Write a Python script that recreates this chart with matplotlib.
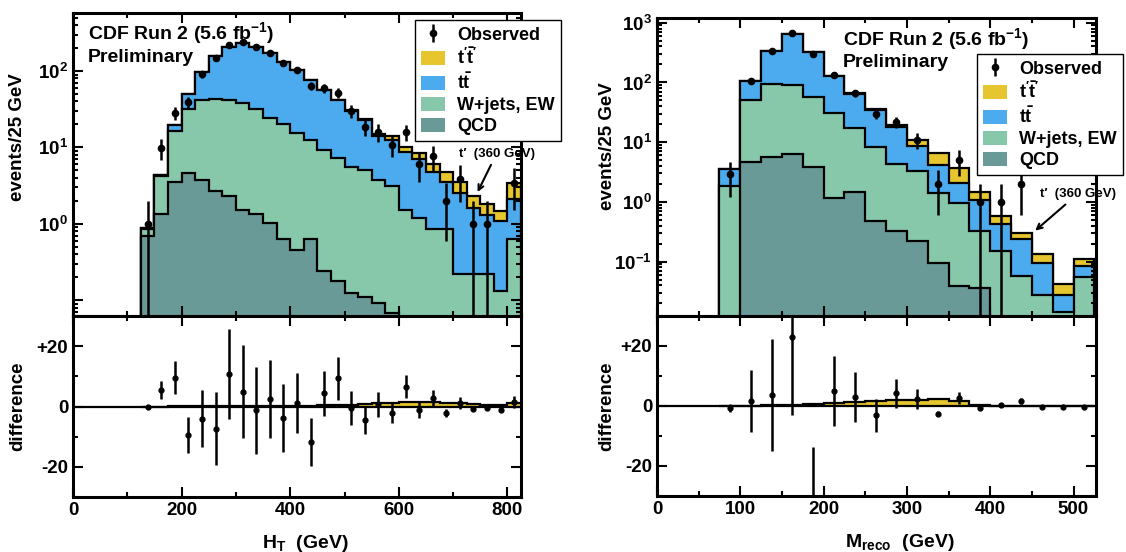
import matplotlib
matplotlib.use("Agg")
import matplotlib.pyplot as plt
from matplotlib.patches import Patch
from matplotlib.ticker import MultipleLocator, LogLocator, NullFormatter
import numpy as np

plt.rcParams['font.family'] = ['Liberation Sans', 'DejaVu Sans']
plt.rcParams['font.weight'] = 'bold'
plt.rcParams['axes.labelweight'] = 'bold'
plt.rcParams['mathtext.fontset'] = 'custom'
plt.rcParams['mathtext.rm'] = 'Liberation Sans:bold'
plt.rcParams['mathtext.bf'] = 'Liberation Sans:bold'
plt.rcParams['mathtext.it'] = 'Liberation Sans:bold'
plt.rcParams['mathtext.sf'] = 'Liberation Sans:bold'

YELLOW = '#E6C52F'
BLUE = '#4CABEF'
GREEN = '#87C8AB'
QCD_COL = '#699A98'

# ---- H_T distribution (25 GeV bins from 125 to 825 GeV) ----
ht_edges = np.arange(125, 850, 25)
ht_qcd = [0.70, 1.34, 3.5, 4.6, 3.7, 2.66, 2.34, 1.51, 1.34, 1.01, 0.63, 0.46, 0.63, 0.24,
          0.18, 0.125, 0.11, 0.092, 0.068, 0.045, 0.035, 0.03, 0.025, 0.02, 0.015, 0.012, 0.01, 0.01]
ht_wjets = [0.15, 2.86, 12.7, 27.4, 38.3, 40.9, 39.7, 36.8, 30.7, 23.6, 19.4, 14.9, 11.8, 8.9,
            7.1, 5.4, 4.9, 3.6, 3.1, 1.45, 1.17, 0.82, 0.83, 0.20, 0.205, 0.21, 0.12, 0.62]
ht_ttbar = [0.02, 0.2, 3.3, 17.5, 56, 114, 167, 197, 177, 149, 112, 87, 63.3, 46.5,
            34.2, 24.4, 18.0, 10.25, 9.5, 7.3, 5.75, 3.9, 2.65, 2.28, 1.41, 1.09, 0.97, 1.47]
ht_tprime = [0, 0, 0.005, 0.01, 0.01, 0.02, 0.02, 0.03, 0.05, 0.1, 0.15, 0.2, 0.3, 0.45,
             0.55, 0.65, 0.85, 1.05, 1.3, 1.4, 1.45, 1.35, 1.2, 1.0, 0.7, 0.5, 0.35, 1.3]
ht_obs = [1.0, 9.8, 28.3, 39.4, 91, 150, 222, 238, 205, 172, 128, 103, 64, 60,
          52, 30, 18.5, 16, 10.8, 16, 6.0, 7.7, 2.0, 3.9, 1.0, 1.0, 0, 3.4]
ht_obs_err = [1.0, 3.0, 5.3, 6.3, 9.5, 12, 15, 15.4, 14.3, 13, 11.3, 10, 8, 7.7,
              7.2, 5.7, 4.4, 4.2, 3.4, 3.9, 2.5, 2.8, 1.4, 2.0, 1.0, 1.0, 0, 1.9]
ht_diff = [0.0, 5.6, 9.6, -9.5, -4.0, -7.3, 10.7, 4.9, -1.3, 2.5, -3.7, 1.2, -11.7, 4.4,
           9.3, -0.4, -4.6, 0.7, -2.1, 6.6, -1.1, 2.8, -2.2, 1.1, -0.8, -0.5, -1.3, 1.4]
ht_diff_err = [0.3, 3.0, 5.4, 6.0, 9.5, 12, 15, 15.4, 14.4, 13, 11.3, 10, 8, 7.5,
               7.2, 5.7, 4.4, 4.2, 3.4, 3.8, 2.6, 2.6, 1.4, 1.9, 0.8, 0.7, 0.3, 2.0]

# ---- M_reco distribution (25 GeV bins from 75 to 525 GeV) ----
m_edges = np.arange(75, 550, 25)
m_qcd = [0, 4.6, 5.7, 6.3, 3.8, 1.18, 1.49, 0.48, 0.33, 0.22, 0.096, 0.039, 0.036, 0, 0, 0, 0, 0]
m_wjets = [1.86, 46.4, 89.3, 82.7, 53.2, 29.3, 15.6, 7.9, 3.97, 3.08, 1.34, 0.93, 0.29,
           0.15, 0.057, 0.028, 0.0144, 0.055]
m_ttbar = [1.68, 53, 241, 569, 267, 95.5, 46.9, 25.6, 13.4, 5.4, 2.76, 1.13, 0.75,
           0.27, 0.179, 0.068, 0.0129, 0.029]
m_tprime = [0, 0.1, 0.3, 0.5, 0.8, 1.1, 1.4, 1.6, 1.9, 2.1, 2.5, 1.6, 0.4,
            0.15, 0.06, 0.04, 0.015, 0.025]
m_obs = [2.9, 105, 340, 681, 295, 131, 66, 30, 22, 11, 2.0, 5.0, 1.0, 1.0, 2.0, 0, 0, 0]
m_obs_err = [1.7, 10.4, 18.5, 26, 17, 11.5, 8.2, 5.5, 4.7, 3.3, 1.4, 2.3, 1.0, 1.0, 1.4, 0, 0, 0]
m_diff = [-0.6, 1.7, 3.7, 22.9, -32, 5.1, 3.1, -3.1, 4.2, 2.3, -2.5, 2.6, -0.6, 0.3,
          1.7, -0.3, -0.2, -0.2]
m_diff_err = [1.3, 10.4, 18.7, 26, 18.5, 11.7, 8.3, 5.5, 4.7, 3.4, 0.8, 2.0, 0.6, 0.6,
              1.0, 0.2, 0.2, 0.2]


def style_axes(ax):
    for s in ax.spines.values():
        s.set_linewidth(2.2)
    ax.tick_params(which='both', direction='in', top=True, right=True, width=1.5,
                   labelsize=13.5)
    ax.tick_params(which='major', length=7)
    ax.tick_params(which='minor', length=3.5)


def draw_stack(ax, edges, qcd, wjets, ttbar, tprime, obs, obs_err, floor):
    layers = np.cumsum([qcd, wjets, ttbar, tprime], axis=0)
    colors = [QCD_COL, GREEN, BLUE, YELLOW]
    for vals, col in zip(layers[::-1], colors[::-1]):
        ax.stairs(np.clip(vals, floor, None), edges, baseline=floor, fill=True,
                  facecolor=col, edgecolor='black', linewidth=1.6)
    centers = (edges[:-1] + edges[1:]) / 2
    obs = np.array(obs, float)
    err = np.array(obs_err, float)
    m = obs > 0
    eb = ax.errorbar(centers[m], obs[m], yerr=err[m], fmt='o', color='black',
                     ms=4.5, elinewidth=1.8, capsize=0, zorder=5)
    return eb


def draw_diff(ax, edges, tprime, diff, diff_err):
    centers = (edges[:-1] + edges[1:]) / 2
    ax.axhline(0, color='black', lw=1.6, zorder=2)
    ax.stairs(tprime, edges, baseline=0, fill=True, color=YELLOW, zorder=1)
    ax.stairs(tprime, edges, baseline=None, color='black', lw=1.6, zorder=2)
    ax.errorbar(centers, diff, yerr=diff_err, fmt='o', color='black', ms=3.5,
                elinewidth=1.8, capsize=0, zorder=5)
    ax.set_ylim(-30, 30)
    ax.set_yticks([-20, 0, 20])
    ax.set_yticklabels(['-20', '0', '+20'])
    ax.yaxis.set_minor_locator(MultipleLocator(10))


W, H = 1126, 552
fig = plt.figure(figsize=(W / 100, H / 100), dpi=100)


def px_axes(x0, x1, y0, y1):
    return fig.add_axes([x0 / W, 1 - y1 / H, (x1 - x0) / W, (y1 - y0) / H])


legend_labels = ['Observed', r"$\mathbf{t'\bar{t}'}$", r"$\mathbf{t\bar{t}}$",
                 'W+jets, EW', 'QCD']

# ---------------- left: H_T ----------------
axL = px_axes(73, 521, 13, 316)
axLb = px_axes(73, 521, 316, 497)
ebL = draw_stack(axL, ht_edges, ht_qcd, ht_wjets, ht_ttbar, ht_tprime, ht_obs, ht_obs_err, 1e-4)
axL.set_yscale('log')
axL.set_ylim(0.062, 575)
axL.set_xlim(0, 825)
axL.set_yticks([0.1, 1, 10, 100])
axL.set_yticklabels(['', r'$10^{0}$', r'$10^{1}$', r'$10^{2}$'])
axL.yaxis.set_minor_locator(LogLocator(subs=np.arange(2, 10)))
axL.yaxis.set_minor_formatter(NullFormatter())
axL.xaxis.set_major_locator(MultipleLocator(200))
axL.xaxis.set_minor_locator(MultipleLocator(100))
axL.set_xticklabels([])
axL.set_ylabel('events/25 GeV', fontsize=13.5)
axL.yaxis.set_label_coords(-0.104, 0.59)
style_axes(axL)

draw_diff(axLb, ht_edges, ht_tprime, ht_diff, ht_diff_err)
axLb.set_xlim(0, 825)
axLb.xaxis.set_major_locator(MultipleLocator(200))
axLb.xaxis.set_minor_locator(MultipleLocator(100))
axLb.set_xlabel(r'$\mathbf{H_T}$  (GeV)', fontsize=14, labelpad=6)
axLb.xaxis.set_label_coords(0.52, -0.2)
axLb.set_ylabel('difference', fontsize=13.5)
axLb.yaxis.set_label_coords(-0.104, 0.5)
style_axes(axLb)

axL.annotate('t′  (360 GeV)', xy=(745, 2.6), xytext=(780, 8.3), ha='center', va='center',
             fontsize=9.5, annotation_clip=False,
             arrowprops=dict(arrowstyle='->', lw=1.5, color='black', shrinkA=2, shrinkB=0))

handlesL = [ebL, Patch(facecolor=YELLOW), Patch(facecolor=BLUE), Patch(facecolor=GREEN),
            Patch(facecolor=QCD_COL)]
legL = axL.legend(handlesL, legend_labels, loc='upper left', bbox_to_anchor=(415 / W, 1 - 20 / H),
                  bbox_transform=fig.transFigure, fontsize=13, fancybox=False, framealpha=1,
                  edgecolor='black', borderpad=0.35, labelspacing=0.2, handlelength=1.3,
                  handleheight=0.85, handletextpad=0.7, borderaxespad=0)
legL.get_frame().set_linewidth(1.0)

fig.text(88 / W, 1 - 33 / H, r'CDF Run 2 (5.6 fb$^{-1}$)', fontsize=14, va='center')
fig.text(88 / W, 1 - 58 / H, 'Preliminary', fontsize=14, va='center')

# ---------------- right: M_reco ----------------
axR = px_axes(657, 1096, 18, 316)
axRb = px_axes(657, 1096, 316, 496)
ebR = draw_stack(axR, m_edges, m_qcd, m_wjets, m_ttbar, m_tprime, m_obs, m_obs_err, 1e-4)
axR.set_yscale('log')
axR.set_ylim(0.0123, 1200)
axR.set_xlim(0, 527)
axR.set_yticks([0.1, 1, 10, 100, 1000])
axR.set_yticklabels([r'$10^{-1}$', r'$10^{0}$', r'$10^{1}$', r'$10^{2}$', r'$10^{3}$'])
axR.yaxis.set_minor_locator(LogLocator(subs=np.arange(2, 10)))
axR.yaxis.set_minor_formatter(NullFormatter())
axR.xaxis.set_major_locator(MultipleLocator(100))
axR.xaxis.set_minor_locator(MultipleLocator(50))
axR.set_xticklabels([])
axR.set_ylabel('events/25 GeV', fontsize=13.5)
axR.yaxis.set_label_coords(-0.094, 0.57)
style_axes(axR)

draw_diff(axRb, m_edges, m_tprime, m_diff, m_diff_err)
axRb.set_xlim(0, 527)
axRb.xaxis.set_major_locator(MultipleLocator(100))
axRb.xaxis.set_minor_locator(MultipleLocator(50))
axRb.set_xlabel(r'$\mathbf{M_{reco}}$  (GeV)', fontsize=14)
axRb.xaxis.set_label_coords(0.553, -0.2)
axRb.set_ylabel('difference', fontsize=13.5)
axRb.yaxis.set_label_coords(-0.094, 0.5)
style_axes(axRb)

axR.annotate('t′  (360 GeV)', xy=(454, 0.33), xytext=(505, 1.36), ha='center', va='center',
             fontsize=9.5, annotation_clip=False,
             arrowprops=dict(arrowstyle='->', lw=1.5, color='black', shrinkA=2, shrinkB=0))

handlesR = [ebR, Patch(facecolor=YELLOW), Patch(facecolor=BLUE), Patch(facecolor=GREEN),
            Patch(facecolor=QCD_COL)]
legR = axR.legend(handlesR, legend_labels, loc='upper left', bbox_to_anchor=(977 / W, 1 - 54 / H),
                  bbox_transform=fig.transFigure, fontsize=13, fancybox=False, framealpha=1,
                  edgecolor='black', borderpad=0.35, labelspacing=0.2, handlelength=1.3,
                  handleheight=0.85, handletextpad=0.7, borderaxespad=0)
legR.get_frame().set_linewidth(1.0)

fig.text(843 / W, 1 - 39 / H, r'CDF Run 2 (5.6 fb$^{-1}$)', fontsize=14, va='center')
fig.text(843 / W, 1 - 62 / H, 'Preliminary', fontsize=14, va='center')

fig.savefig('out.png', dpi=100)
